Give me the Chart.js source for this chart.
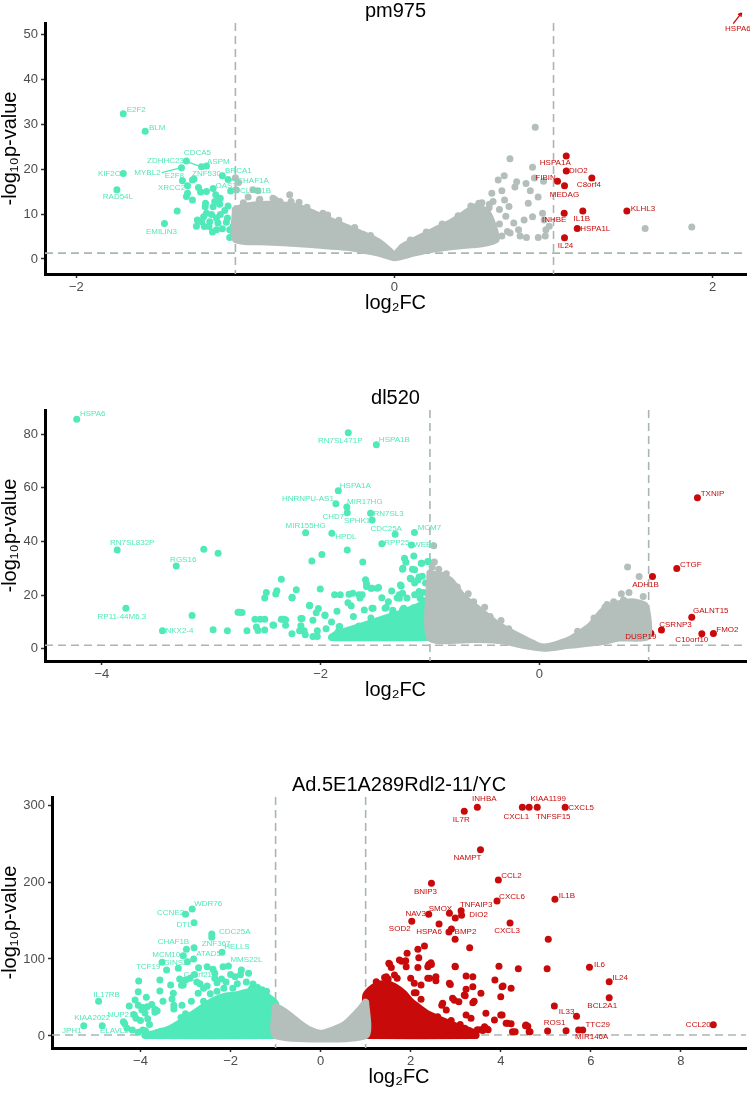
<!DOCTYPE html>
<html>
<head>
<meta charset="utf-8">
<script src="https://cdn.jsdelivr.net/npm/chart.js@4.4.1/dist/chart.umd.min.js"></script>
<style>
  html, body { margin: 0; padding: 0; background: #fff; }
  #wrap { position: relative; width: 750px; height: 1094px; }
  canvas { position: absolute; left: 0; }
</style>
</head>
<body>
<div id="wrap">
  <canvas id="pm975" width="750" height="320" style="top:0px"></canvas>
  <canvas id="dl520" width="750" height="320" style="top:387px"></canvas>
  <canvas id="ad5" width="750" height="320" style="top:774px"></canvas>
</div>
<script>
// ---- thresholds ----
const fcCut = [-1, 1];
const pCut = 1.301;

// ---- pm975 ----
const pmXTicks = [-2, 0, 2];
const pmYTicks = [0, 10, 20, 30, 40, 50];
const pmDownGenes = [
  ["E2F2", -1.705, 32.3], ["BLM", -1.567, 28.4], ["KIF2C", -1.705, 19.0], ["RAD54L", -1.745, 15.4],
  ["EMILIN3", -1.446, 7.9], ["CDCA5", -1.308, 21.8], ["ZDHHC23", -1.213, 20.5], ["MYBL2", -1.339, 20.3],
  ["ASPM", -1.182, 20.7], ["E2F8", -1.333, 17.4], ["ZNF530", -1.27, 17.6], ["XRCC2", -1.301, 16.3],
  ["OAS3", -1.14, 15.7], ["BRCA1", -1.082, 18.5], ["CHAF1A", -1.046, 17.7], ["DCLRE1B", -1.03, 15.1]
];
const pmDown = [
  [-1.26, 17.8], [-1.366, 10.7], [-1.27, 13.1], [-1.308, 13.9], [-1.301, 14.6], [-1.232, 15.9], [-1.219, 14.9],
  [-1.182, 15.0], [-1.124, 14.3], [-1.105, 13.1], [-1.095, 13.5], [-1.188, 12.4], [-1.19, 11.6], [-1.14, 11.6],
  [-1.099, 12.2], [-1.046, 11.8], [-1.182, 10.2], [-1.15, 9.9], [-1.067, 10.8], [-1.119, 9.1], [-1.095, 9.9],
  [-1.239, 8.7], [-1.213, 8.3], [-1.161, 8.3], [-1.11, 8.0], [-1.057, 8.2], [-1.245, 7.3], [-1.195, 7.2],
  [-1.166, 7.2], [-1.144, 6.0], [-1.119, 6.5], [-1.082, 6.7], [-1.036, 6.5], [-1.015, 7.2], [-1.036, 4.8],
  [-1.015, 5.3], [-1.004, 6.2], [-1.2, 9.4], [-1.13, 12.8], [-1.05, 9.1]
];
const pmUpGenes = [
  ["HSPA1A", 1.08, 22.9], ["DIO2", 1.08, 19.6], ["FIBIN", 1.025, 17.3], ["C8orf4", 1.241, 18.0],
  ["MEDAG", 1.069, 16.3], ["KLHL3", 1.461, 10.7], ["INHBE", 1.067, 10.2], ["IL1B", 1.184, 10.7],
  ["HSPA1L", 1.149, 6.8], ["IL24", 1.069, 4.7], ["HSPA6", 2.3, 56]
];
const pmGrey = [
  [0.885, 29.3], [0.726, 22.3], [0.868, 20.4], [0.88, 18.0], [0.69, 18.5], [0.652, 17.6], [0.768, 17.2],
  [0.827, 16.8], [0.757, 16.0], [0.937, 17.3], [0.854, 15.2], [0.675, 15.2], [0.612, 14.6], [0.692, 13.1],
  [0.597, 12.2], [0.903, 13.8], [0.841, 12.4], [0.72, 11.7], [0.931, 10.2], [0.941, 8.7], [0.973, 7.3],
  [0.952, 6.5], [0.815, 8.7], [0.868, 9.4], [0.71, 6.1], [0.675, 5.1], [0.904, 4.8], [0.948, 5.1],
  [0.83, 4.8], [0.79, 5.1], [0.727, 5.8], [1.576, 6.8], [1.869, 7.1], [0.545, 10.7], [0.595, 11.4],
  [0.55, 12.5], [0.62, 12.8], [0.66, 11.0], [0.7, 9.5], [0.75, 8.0], [0.78, 6.5], [0.66, 7.8], [0.6, 9.0],
  [0.1, 4.2], [0.2, 6.0], [0.3, 7.8], [0.4, 9.6], [0.48, 11.8], [0.53, 12.4],
  [-1.0, 18.1], [-0.994, 15.4], [-0.89, 15.4], [-0.858, 15.2], [-0.847, 13.3], [-0.764, 13.5], [-0.659, 14.3],
  [-0.92, 13.8], [-0.72, 12.8], [-0.6, 12.6], [-0.55, 11.5], [-0.45, 10.2], [-0.98, 17.0],
  [-0.95, 12.5], [-0.85, 13.0], [-0.75, 13.2], [-0.65, 12.8], [-0.42, 9.8], [-0.35, 8.6], [-0.25, 7.0],
  [-0.15, 5.2]
];
const pmGreyMass = [
  [-1.0, 11.0], [-0.93, 11.8], [-0.8, 12.2], [-0.7, 12.0], [-0.6, 11.5], [-0.5, 10.0], [-0.4, 8.5], [-0.3, 7.0],
  [-0.2, 5.5], [-0.1, 3.8], [-0.03, 1.8], [0.0, 0.8], [0.05, 2.7], [0.15, 4.6], [0.26, 6.5], [0.36, 8.2],
  [0.45, 10.3], [0.51, 11.6], [0.58, 10.5], [0.62, 7.5], [0.64, 4.3], [0.55, 3.4], [0.4, 2.9], [0.26, 2.3],
  [0.12, 1.3], [0.0, 0.3], [-0.1, 1.3], [-0.2, 2.0], [-0.3, 2.6], [-0.45, 3.0], [-0.6, 3.4], [-0.8, 3.8],
  [-1.0, 4.4], [-1.0, 11.0]
];

// ---- dl520 ----
const dlXTicks = [-4, -2, 0];
const dlYTicks = [0, 20, 40, 60, 80];
const dlDownGenes = [
  ["HSPA6", -4.23, 85.5], ["RN7SL471P", -1.747, 80.5], ["HSPA1B", -1.49, 76.0], ["HSPA1A", -1.838, 58.9],
  ["HNRNPU-AS1", -1.86, 54.0], ["MIR17HG", -1.76, 52.8], ["CHD7", -1.756, 50.7], ["SPHK1", -1.528, 48.0],
  ["RN7SL3", -1.543, 50.5], ["MIR155HG", -2.137, 43.2], ["HPDL", -1.897, 43.0], ["CDC25A", -1.318, 42.7],
  ["MCM7", -1.142, 43.3], ["RPP25", -1.44, 39.1], ["WEE1", -1.169, 38.7], ["RN7SL832P", -3.86, 36.8],
  ["RGS16", -3.32, 30.8], ["RP11-44M6.3", -3.78, 15.1], ["NKX2-4", -3.446, 6.7]
];
const dlDown = [
  [-3.068, 37.1], [-2.937, 35.6], [-3.175, 12.4], [-2.983, 7.1], [-2.852, 6.7], [-2.673, 6.7], [-2.755, 13.6],
  [-2.718, 13.5], [-2.6, 11.0], [-2.552, 11.0], [-2.587, 8.1], [-2.572, 6.8], [-2.511, 7.0], [-2.511, 18.9],
  [-2.496, 21.0], [-2.429, 8.8], [-2.359, 25.9], [-2.359, 11.0], [-2.32, 10.8], [-2.32, 8.8], [-2.262, 5.6],
  [-2.262, 18.9], [-2.222, 22.0], [-2.192, 6.7], [-2.17, 11.3], [-2.15, 6.7], [-2.14, 5.2], [-2.101, 16.2],
  [-2.08, 32.7], [-2.07, 10.6], [-2.07, 4.6], [-2.04, 13.4], [-2.03, 6.7], [-2.03, 4.6], [-2.003, 22.3],
  [-1.988, 35.1], [-1.96, 12.4], [-1.872, 20.1], [-1.87, 4.6], [-1.84, 6.3], [-1.83, 8.2], [-1.82, 20.1],
  [-1.756, 36.8], [-1.75, 17.2], [-1.74, 20.3], [-1.81, 5.7], [-1.76, 5.7], [-1.614, 32.3], [-1.589, 25.7],
  [-1.58, 23.2], [-1.62, 20.1], [-1.53, 22.6], [-1.48, 22.6], [-1.53, 15.1], [-1.233, 33.7], [-1.148, 34.6],
  [-1.014, 32.5], [-1.248, 30.0], [-1.16, 29.6], [-1.075, 31.9], [-1.172, 26.0], [-1.11, 25.6], [-1.07, 27.0],
  [-1.04, 24.5], [-1.58, 24.2], [-1.47, 22.8], [-2.4, 21.6], [-2.41, 20.4], [-2.26, 19.2], [-1.705, 20.7],
  [-1.65, 20.1], [-1.64, 18.9], [-1.263, 23.4], [-1.28, 20.1], [-1.3, 19.0], [-1.21, 18.9], [-1.14, 20.1],
  [-1.09, 18.8], [-1.4, 15.4], [-1.34, 14.4], [-1.24, 15.1], [-1.15, 15.3], [-1.08, 14.4], [-2.1, 16.0],
  [-2.02, 15.0], [-2.74, 13.6], [-2.34, 11.0], [-2.18, 11.3], [-1.96, 12.6], [-2.51, 11.0], [-2.436, 8.9],
  [-2.18, 8.6], [-1.826, 8.3], [-1.22, 32.2], [-1.25, 29.6], [-1.14, 29.4], [-1.08, 31.9], [-1.02, 32.5],
  [-1.18, 26.3], [-1.10, 26.7], [-1.14, 24.5], [-1.54, 22.6], [-1.27, 23.8], [-1.25, 20.7], [-1.28, 18.8],
  [-1.1, 21.3], [-1.07, 18.2], [-1.52, 15.1], [-1.41, 15.1], [-1.34, 13.3], [-1.25, 14.6], [-1.1, 15.1],
  [-1.02, 14.6], [-1.54, 11.5], [-1.36, 10.9], [-1.27, 10.3], [-1.16, 10.9], [-1.07, 11.5], [-1.51, 7.8],
  [-1.43, 7.2], [-1.33, 7.8], [-1.23, 7.2], [-1.13, 7.8], [-1.05, 7.2], [-1.46, 4.8], [-1.36, 4.8],
  [-1.27, 4.8], [-1.17, 4.8], [-1.02, 4.8], [-1.9, 10.0], [-1.85, 14.0], [-1.7, 12.0], [-1.65, 8.5],
  [-1.6, 14.5], [-1.72, 16.0], [-1.95, 7.5], [-1.68, 5.0], [-1.58, 6.5], [-1.44, 19.0], [-1.38, 17.5],
  [-1.47, 9.5], [-1.35, 21.5], [-1.2, 12.5], [-1.12, 13.0], [-1.05, 16.5], [-1.06, 21.0], [-1.02, 9.5],
  [-1.3, 11.5], [-1.1, 5.8]
];
const dlDownMass = [
  [-1.0, 4.2], [-1.0, 18], [-1.1, 16], [-1.25, 13.5], [-1.4, 11.5], [-1.55, 9.5], [-1.7, 7.5], [-1.85, 5.5],
  [-1.9, 4.2], [-1.0, 4.2]
];
const dlUpGenes = [
  ["TXNIP", 1.446, 56.3], ["CTGF", 1.257, 29.9], ["ADH1B", 1.035, 26.9], ["GALNT15", 1.394, 11.8],
  ["CSRNP3", 1.117, 7.0], ["FMO2", 1.592, 5.7], ["C10orf10", 1.486, 5.6], ["DUSP19", 1.02, 5.8]
];
const dlGrey = [
  [-0.965, 38.4], [-0.96, 32.3], [-0.92, 29.6], [0.807, 30.5], [0.913, 26.9], [0.77, 18.2], [0.96, 15.5],
  [0.9, 9.0], [0.96, 12.0], [0.75, 20.5], [0.82, 21.0], [0.95, 19.5], [0.9, 7.0], [0.93, 11.0], [0.68, 17.5],
  [0.6, 15.5], [-0.98, 30.5], [-0.9, 27.5], [-0.85, 28.0], [-0.75, 23.0], [-0.65, 20.5], [-0.6, 17.5],
  [-0.5, 15.5], [-0.45, 12.0], [-0.35, 10.5], [-0.28, 7.5], [0.35, 6.5], [0.5, 11.5], [0.62, 16.5]
];
const dlGreyMass = [
  [-1.0, 28.2], [-0.82, 25.7], [-0.7, 19.5], [-0.55, 14.5], [-0.4, 9.6], [-0.24, 5.8], [-0.09, 2.7], [0.0, 0.9],
  [0.09, 0.9], [0.27, 3.3], [0.46, 8.3], [0.58, 14.0], [0.7, 16.5], [0.85, 17.5], [0.97, 16.0], [0.99, 4.6],
  [0.73, 4.0], [0.58, 2.7], [0.27, 1.3], [0.05, 0.2], [-0.15, 1.3], [-0.34, 3.0], [-0.6, 3.5], [-1.0, 4.0],
  [-1.0, 28.2]
];

// ---- Ad.5E1A289Rdl2-11/YC ----
const adXTicks = [-4, -2, 0, 2, 4, 6, 8];
const adYTicks = [0, 100, 200, 300];
const adDownGenes = [
  ["WDR76", -2.853, 164.9], ["CCNE2", -3.0, 158], ["DTL", -2.81, 147.2], ["CDC25A", -2.417, 132.5],
  ["ZNF367", -2.81, 114.7], ["CHAF1B", -2.98, 112.6], ["HELLS", -2.19, 108.7], ["MCM10", -3.05, 104.3],
  ["ATAD5", -2.82, 100], ["GINS2", -2.956, 96.5], ["TCF19", -3.52, 95.7], ["MMS22L", -2.047, 90.9],
  ["C4orf21", -2.35, 81.4], ["IL17RB", -4.93, 45], ["KIAA2022", -4.85, 13.4], ["NUP210", -4.35, 16],
  ["JPH1", -5.26, 13.4], ["ELAVL2", -4.18, 7.8]
];
const adDown = [
  [-2.417, 128.2], [-3.42, 85.7], [-3.16, 87.9], [-2.71, 88.7], [-2.52, 90], [-2.39, 86.8], [-2.166, 90],
  [-1.76, 85.7], [-1.6, 81.4], [-1.78, 79.6], [-3.57, 72.7], [-4.04, 71.4], [-3.13, 74], [-3.0, 72.7],
  [-3.33, 66.2], [-3.09, 65.8], [-3.05, 66.2], [-2.75, 70], [-2.68, 68], [-2.52, 65], [-2.3, 69], [-2.2, 74],
  [-2.1, 70], [-1.5, 67.5], [-1.53, 62], [-4.05, 57.5], [-4.12, 46.8], [-4.25, 39], [-4.05, 39.8],
  [-3.87, 50.2], [-3.57, 58.4], [-3.27, 55.4], [-3.26, 40], [-3.26, 35], [-3.08, 40], [-2.87, 45],
  [-2.72, 55.4], [-3.95, 37], [-3.85, 38], [-3.97, 34], [-3.9, 30], [-3.68, 34.6], [-3.63, 32.8],
  [-3.68, 30.8], [-4.0, 20], [-3.84, 22.5], [-4.38, 18.6], [-3.95, 7.8], [-3.89, 6.9], [-3.64, 4.3],
  [-3.55, 6], [-3.45, 5], [-3.35, 4], [-3.2, 5], [-3.25, 2.5], [-3.0, 29], [-2.85, 27], [-2.9, 20],
  [-3.05, 16], [-3.1, 24], [-2.6, 45], [-2.45, 55], [-2.3, 58], [-2.15, 62], [-1.95, 62], [-1.85, 68],
  [-1.65, 70], [-1.4, 63], [-1.3, 60], [-1.2, 58], [-2.6, 62], [-2.35, 75], [-2.0, 80], [-1.9, 77],
  [-2.8, 80], [-2.9, 75], [-3.3, 48], [-3.5, 45], [-3.75, 41], [-4.15, 28], [-4.1, 23], [-3.8, 15],
  [-4.3, 10], [-4.05, 5]
];
const adDownMass = [
  [-1.0, 0.5], [-3.9, 0.5], [-3.7, 3], [-3.4, 8], [-3.1, 18], [-2.9, 26], [-2.7, 34], [-2.5, 42], [-2.3, 48],
  [-2.1, 52], [-1.9, 53], [-1.7, 56], [-1.5, 58], [-1.3, 55], [-1.15, 50], [-1.0, 42], [-1.0, 0.5]
];
const adUpGenes = [
  ["IL7R", 3.19, 292], ["INHBA", 3.48, 297], ["CXCL1", 4.48, 297], ["KIAA1199", 4.63, 297],
  ["TNFSF15", 4.81, 297], ["CXCL5", 5.43, 297], ["NAMPT", 3.55, 242], ["CCL2", 3.947, 202.6],
  ["BNIP3", 2.461, 198.3], ["CXCL6", 3.917, 175.3], ["IL1B", 5.203, 177.5], ["TNFAIP3", 3.12, 162.8],
  ["DIO2", 3.13, 156.7], ["SMOX", 2.86, 159.3], ["NAV3", 2.40, 158], ["SOD2", 2.024, 149],
  ["CXCL3", 4.206, 146.8], ["HSPA6", 2.63, 145.5], ["BMP2", 2.905, 139], ["IL6", 5.97, 89.2],
  ["IL24", 6.408, 70.5], ["BCL2A1", 6.408, 49.8], ["IL33", 5.683, 25.6], ["TTC29", 5.73, 7.8],
  ["MIR146A", 5.82, 7.8], ["ROS1", 5.04, 6.5], ["CCL20", 8.72, 14.7]
];
const adUp = [
  [2.99, 153.2], [2.85, 135], [2.986, 125.6], [5.055, 125.6], [3.31, 114.7], [2.306, 116.9], [2.16, 112.6],
  [1.92, 107.4], [1.75, 98.7], [1.8, 97], [1.89, 97.8], [2.18, 101.7], [1.53, 93.5], [2.986, 90.5],
  [3.96, 90.5], [4.39, 87.4], [5.03, 87.4], [5.19, 39.0], [4.03, 64], [4.23, 62], [4.0, 51], [3.87, 72.7],
  [3.38, 64], [3.23, 60.6], [3.38, 77], [3.23, 77.9], [2.88, 67], [2.56, 71.8], [2.42, 75], [2.99, 90],
  [2.45, 95.2], [2.4, 93], [2.46, 93], [2.16, 89], [1.57, 89], [1.42, 76], [1.5, 74], [1.7, 75], [2.0, 75],
  [2.08, 56], [2.12, 56], [2.01, 42.4], [2.23, 47.6], [2.25, 31.6], [2.71, 42.4], [2.69, 40], [2.93, 49],
  [2.97, 46.5], [3.21, 52.3], [3.38, 43.3], [3.41, 45], [3.67, 29.4], [3.86, 20.8], [4.03, 27.3],
  [3.64, 12.1], [3.55, 8], [3.48, 8], [3.72, 8], [4.12, 16.5], [4.23, 16], [4.26, 5.6], [4.32, 5.6],
  [4.55, 13.4], [4.6, 12.5], [4.65, 5.6], [5.45, 6.9], [1.515, 94.4], [1.9, 90], [2.38, 90], [1.124, 57.5],
  [1.257, 68.4], [1.457, 77], [1.64, 79.2], [2.08, 68.4], [2.23, 66.2], [2.38, 74.9], [2.56, 77],
  [2.86, 68.4], [3.19, 53.2], [3.56, 55.4], [3.07, 44.6], [2.79, 33.8], [3.23, 27.3], [3.34, 23],
  [4.0, 27.3], [4.15, 16.5], [4.56, 14.3], [4.63, 5.6], [4.05, 65], [3.6, 7], [3.7, 9], [3.4, 5], [2.3, 15],
  [2.5, 18], [2.7, 12], [2.9, 20], [3.1, 15], [3.2, 10], [2.6, 25], [2.45, 22], [1.235, 70.5], [1.146, 57.5]
];
const adUpMass = [
  [1.0, 0.5], [1.0, 52], [1.1, 60], [1.25, 66], [1.45, 68], [1.65, 64], [1.85, 55], [2.0, 45], [2.2, 36],
  [2.4, 28], [2.7, 20], [3.0, 13], [3.3, 7], [3.45, 2], [3.45, 0.5], [1.0, 0.5]
];
const adGreyMass = [
  [-1.0, 38], [-0.89, 35], [-0.69, 27], [-0.47, 16.5], [-0.24, 7.8], [0.0, 3.5], [0.27, 7.8], [0.57, 16.5],
  [0.865, 33.8], [0.98, 42.5], [1.0, 44], [1.0, 0.5], [-1.0, 0.5], [-1.0, 38]
];

// ---- styling ----
const FONT = "'Liberation Sans', Arial, Helvetica, sans-serif";
const GREY = "#b4bfbb";
const CYAN = "#50e9b9";
const RED = "#c80a0a";
const DASH = "#a9b6b3";

// label nudges in pixels: [dx, dy, mode]
const pmNudge = {
  E2F2: [13, -4], BLM: [12, -4], KIF2C: [-14, 0], RAD54L: [1, 7], EMILIN3: [-3, 8], CDCA5: [11, -8],
  ZDHHC23: [-36, -6, "seg"], MYBL2: [-34, 5, "seg"], ASPM: [12, -4], E2F8: [-8, -5], ZNF530: [14, -6],
  XRCC2: [-16, 2], OAS3: [13, -3], BRCA1: [16, -5], CHAF1A: [25, 1, "seg"], DCLRE1B: [22, 0],
  HSPA1A: [-11, 7], DIO2: [12, 0], FIBIN: [-12, -3], C8orf4: [-3, 7], MEDAG: [0, 9], KLHL3: [16, -2],
  INHBE: [-10, 7], IL1B: [-1, 8], HSPA1L: [18, 0], IL24: [1, 8],
  HSPA6: [-22.4, 21.4, "arrow", -4.7, -5, 3.7, -15.7]
};
const dlNudge = {
  HSPA6: [16, -5], RN7SL471P: [-8, 8], HSPA1B: [18, -5], HSPA1A: [17, -5], "HNRNPU-AS1": [-28, -5],
  MIR17HG: [18, -5], CHD7: [-14, 4], SPHK1: [-15, 1], RN7SL3: [18, 1], MIR155HG: [0, -7], HPDL: [14, 3],
  CDC25A: [-9, -5], MCM7: [15, -5], RPP25: [15, -1], WEE1: [13, 0], RN7SL832P: [15, -7], RGS16: [7, -6],
  "RP11-44M6.3": [-4, 9], "NKX2-4": [17, 0],
  TXNIP: [15, -4], CTGF: [14, -4], ADH1B: [-7, 8], GALNT15: [19, -6], CSRNP3: [14, -5], FMO2: [14, -4],
  C10orf10: [-10, 6], DUSP19: [-10, 4]
};
const adNudge = {
  WDR76: [16, -5], CCNE2: [-15, -2], DTL: [-10, 2], CDC25A: [23, -2], ZNF367: [22, -4], CHAF1B: [-13, -7],
  HELLS: [15, -5], MCM10: [-17, -1], ATAD5: [15, -5], GINS2: [-12, 1], TCF19: [-14, 4], MMS22L: [18, -6],
  C4orf21: [-17, 1], IL17RB: [8, -7], KIAA2022: [-10, -8], NUP210: [-2, -9], JPH1: [-12, 5], ELAVL2: [-18, 1],
  IL7R: [-3, 9], INHBA: [7, -9], CXCL1: [-6, 9], KIAA1199: [19, -9], TNFSF15: [16, 9], CXCL5: [16, 0],
  NAMPT: [-13, 8], CCL2: [13, -4], BNIP3: [-6, 8], CXCL6: [15, -4], IL1B: [12, -4], TNFAIP3: [15, -6],
  DIO2: [17, -1], SMOX: [-9, -5], NAV3: [-13, -1], SOD2: [-12, 8], CXCL3: [-3, 8], HSPA6: [-10, 8],
  BMP2: [14, 3], IL6: [10, -3], IL24: [11, -4], BCL2A1: [-7, 8], IL33: [-10, -4], TTC29: [19, -5],
  MIR146A: [9, 7], ROS1: [7, -8], CCL20: [-15, 0]
};

const fmtTick = v => (v < 0 ? "\u2212" + Math.abs(v) : String(v));
const toXY = arr => arr.map(([x, y]) => ({ x, y }));
const genesXY = genes => genes.map(g => [g[1], g[2]]);

const guides = {
  id: "guides",
  beforeDatasetsDraw(chart) {
    const { ctx, chartArea: a, scales: { x, y } } = chart;
    ctx.save();
    ctx.strokeStyle = DASH;
    ctx.lineWidth = 1.6;
    ctx.setLineDash([8, 5]);
    ctx.beginPath();
    fcCut.forEach(v => {
      const px = x.getPixelForValue(v);
      ctx.moveTo(px, a.top);
      ctx.lineTo(px, a.bottom);
    });
    const py = y.getPixelForValue(pCut);
    ctx.moveTo(a.left, py);
    ctx.lineTo(a.right, py);
    ctx.stroke();
    ctx.restore();
  }
};

const panelTitle = {
  id: "panelTitle",
  afterDraw(chart, args, opts) {
    const { ctx, chartArea: a } = chart;
    ctx.save();
    ctx.font = "20px " + FONT;
    ctx.fillStyle = "#000";
    ctx.textAlign = "center";
    ctx.textBaseline = "middle";
    ctx.fillText(opts.text, (a.left + a.right) / 2, 11);
    ctx.restore();
  }
};

const geneLabels = {
  id: "geneLabels",
  afterDatasetsDraw(chart, args, opts) {
    const { ctx, scales: { x, y } } = chart;
    ctx.save();
    ctx.font = "8px " + FONT;
    ctx.textAlign = "center";
    ctx.textBaseline = "middle";
    opts.sets.forEach(({ genes, color }) => {
      ctx.fillStyle = color;
      ctx.strokeStyle = color;
      ctx.lineWidth = 1.3;
      genes.forEach(([name, gx, gy]) => {
        const px = x.getPixelForValue(gx);
        const py = y.getPixelForValue(gy);
        const n = opts.nudge[name] || [0, -8];
        const lx = px + n[0], ly = py + n[1];
        if (n[2] === "seg") {
          const w = ctx.measureText(name).width / 2;
          const sx = n[0] < 0 ? lx + w + 1 : lx - w - 1;
          ctx.beginPath();
          ctx.moveTo(sx, ly);
          ctx.lineTo(px, py);
          ctx.stroke();
        } else if (n[2] === "arrow") {
          const x1 = lx + n[3], y1 = ly + n[4], x2 = lx + n[5], y2 = ly + n[6];
          const ang = Math.atan2(y2 - y1, x2 - x1);
          ctx.beginPath();
          ctx.moveTo(x1, y1);
          ctx.lineTo(x2, y2);
          ctx.moveTo(x2, y2);
          ctx.lineTo(x2 - 4 * Math.cos(ang - 0.5), y2 - 4 * Math.sin(ang - 0.5));
          ctx.moveTo(x2, y2);
          ctx.lineTo(x2 - 4 * Math.cos(ang + 0.5), y2 - 4 * Math.sin(ang + 0.5));
          ctx.stroke();
        }
        ctx.fillText(name, lx, ly);
      });
    });
    ctx.restore();
  }
};

function massSet(points, color) {
  return {
    type: "line", data: toXY(points), borderColor: color, backgroundColor: color,
    borderWidth: 7, borderJoinStyle: "round", borderCapStyle: "round",
    pointRadius: 0, fill: "shape", tension: 0.2
  };
}
function dotSet(points, color) {
  return {
    data: toXY(points), backgroundColor: color, borderColor: color,
    pointBackgroundColor: color, pointBorderColor: color,
    pointRadius: 3.5, pointBorderWidth: 0, borderWidth: 0
  };
}

function makePanel(id, o) {
  const datasets = [massSet(o.greyMass, GREY), dotSet(o.grey, GREY)];
  if (o.downMass) datasets.push(massSet(o.downMass, CYAN));
  datasets.push(dotSet([...genesXY(o.downGenes), ...o.down], CYAN));
  if (o.upMass) datasets.push(massSet(o.upMass, RED));
  datasets.push(dotSet([...genesXY(o.upGenes), ...o.up], RED));

  const axisBase = {
    type: "linear",
    border: { display: true, color: "#000", width: 3 },
    grid: { drawOnChartArea: false, drawTicks: true, tickLength: 4, tickColor: "#333", tickWidth: 1.5 },
    ticks: { color: "#4d4d4d", font: { family: FONT, size: 13 }, callback: fmtTick, autoSkip: false, maxRotation: 0 }
  };

  return new Chart(document.getElementById(id), {
    type: "scatter",
    data: { datasets },
    plugins: [guides, panelTitle, geneLabels],
    options: {
      responsive: false,
      animation: false,
      events: [],
      layout: { padding: { top: 23, right: 3, left: 0, bottom: 0 } },
      plugins: {
        legend: { display: false },
        tooltip: { enabled: false },
        panelTitle: { text: o.title },
        geneLabels: {
          nudge: o.nudge,
          sets: [{ genes: o.downGenes, color: CYAN }, { genes: o.upGenes, color: RED }]
        }
      },
      scales: {
        x: {
          ...axisBase,
          min: o.xRange[0], max: o.xRange[1],
          ticks: { ...axisBase.ticks, padding: 2 },
          afterBuildTicks: s => { s.ticks = o.xTicks.map(value => ({ value })); },
          afterFit: s => { s.height = 46; },
          title: {
            display: true, text: "log\u2082FC", color: "#000",
            font: { family: FONT, size: 20, lineHeight: 1 }, padding: { top: 0, bottom: 7 }
          }
        },
        y: {
          ...axisBase,
          min: o.yRange[0], max: o.yRange[1],
          ticks: { ...axisBase.ticks, padding: 3 },
          afterBuildTicks: s => { s.ticks = o.yTicks.map(value => ({ value })); },
          afterFit: s => { s.width = o.yWidth; },
          title: {
            display: true, text: "-log\u2081\u2080p-value", color: "#000",
            font: { family: FONT, size: 20, lineHeight: 1 }, padding: { top: 0, bottom: 0 }
          }
        }
      }
    }
  });
}

makePanel("pm975", {
  title: "pm975", xRange: [-2.197, 2.21], yRange: [-3.34, 52.5], xTicks: pmXTicks, yTicks: pmYTicks, yWidth: 45,
  grey: pmGrey, greyMass: pmGreyMass, down: pmDown, downGenes: pmDownGenes, up: [], upGenes: pmUpGenes,
  nudge: pmNudge
});
makePanel("dl520", {
  title: "dl520", xRange: [-4.52, 1.89], yRange: [-4.54, 88.94], xTicks: dlXTicks, yTicks: dlYTicks, yWidth: 45,
  grey: dlGrey, greyMass: dlGreyMass, down: dlDown, downMass: dlDownMass, downGenes: dlDownGenes,
  up: [], upGenes: dlUpGenes, nudge: dlNudge
});
makePanel("ad5", {
  title: "Ad.5E1A289Rdl2-11/YC", xRange: [-5.965, 9.446], yRange: [-15.6, 310.4], xTicks: adXTicks, yTicks: adYTicks,
  yWidth: 52, grey: [], greyMass: adGreyMass, down: adDown, downMass: adDownMass, downGenes: adDownGenes,
  up: adUp, upMass: adUpMass, upGenes: adUpGenes, nudge: adNudge
});
</script>
</body>
</html>
